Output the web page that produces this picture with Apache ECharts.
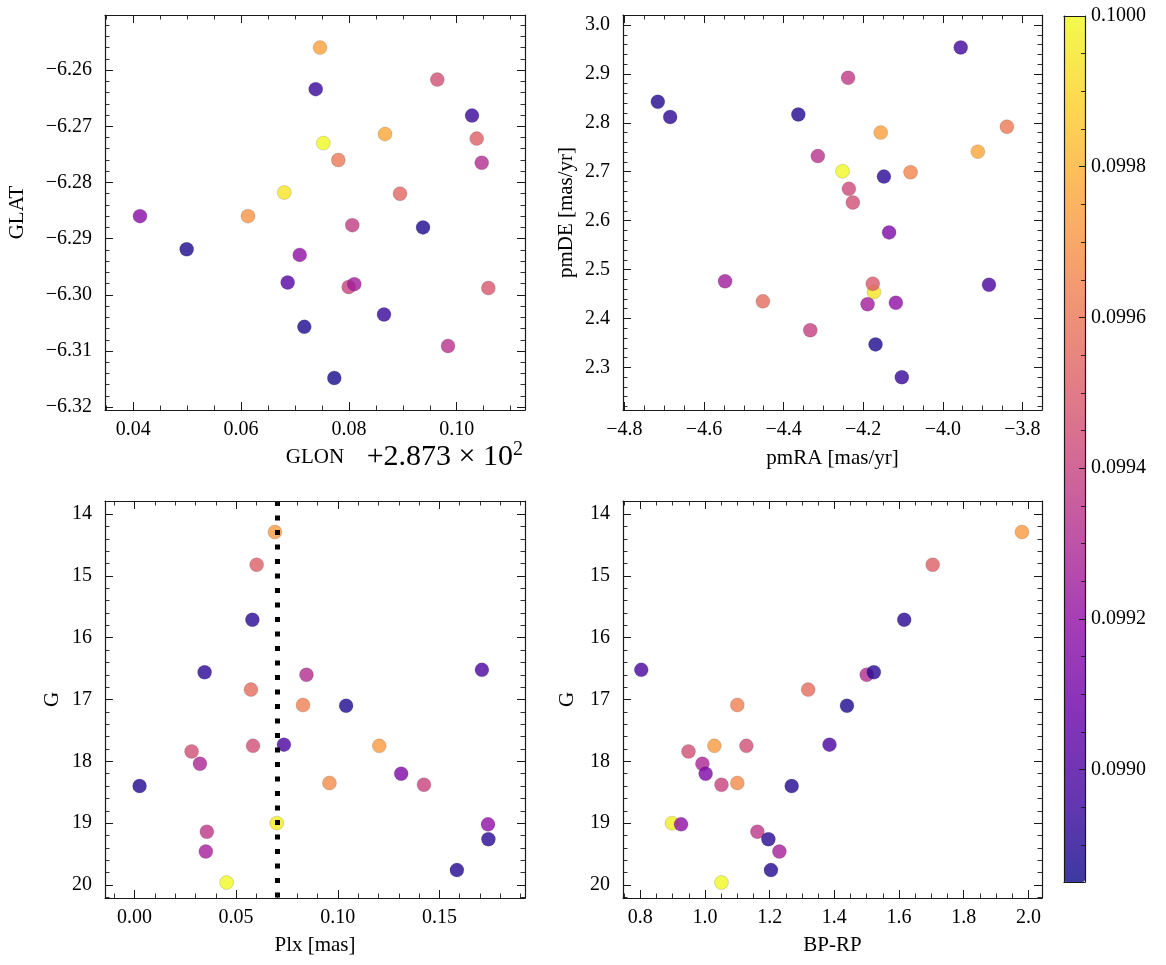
<!DOCTYPE html>
<html><head><meta charset="utf-8">
<script src="https://cdn.jsdelivr.net/npm/echarts@6/dist/echarts.min.js"></script>
<style>html,body{margin:0;padding:0;background:#fff}#c{width:1166px;height:965px}</style>
</head><body><div id="c"></div>
<script>
// ---------------- data ----------------
// Top-left panel: galactic coordinates
const glon = [287.37464, 287.39640, 287.37384, 287.40284, 287.38670, 287.37525, 287.40371, 287.37803, 287.40464, 287.36801,
              287.38948, 287.34124, 287.36128, 287.38063, 287.39375, 287.34990, 287.37087, 287.36864, 287.37996, 287.38100,
              287.40587, 287.38651, 287.37173, 287.39839, 287.37729];
const glat = [-6.2560, -6.2617, -6.2634, -6.2681, -6.2714, -6.2730, -6.2722, -6.2760, -6.2765, -6.2818,
              -6.2820, -6.2860, -6.2860, -6.2876, -6.2880, -6.2919, -6.2929, -6.2978, -6.2986, -6.2981,
              -6.2988, -6.3035, -6.3057, -6.3091, -6.3148];
const colorTL = [0.099747, 0.099448, 0.098943, 0.098943, 0.099770, 0.100000, 0.099517, 0.099609, 0.099311, 0.099943,
                 0.099540, 0.099173, 0.099701, 0.099380, 0.098885, 0.098885, 0.099196, 0.099023, 0.099403, 0.099253,
                 0.099483, 0.098943, 0.098885, 0.099334, 0.098874];
// Top-right panel: proper motions
const pmra = [-3.955, -4.238, -4.716, -4.685, -4.363, -4.156, -3.839, -4.314, -3.912, -4.252,
              -4.148, -4.081, -4.236, -4.226, -4.135, -4.547, -4.173, -4.176, -4.452, -4.189,
              -4.118, -3.884, -4.333, -4.169, -4.103];
const pmde = [2.954, 2.892, 2.843, 2.812, 2.817, 2.780, 2.792, 2.732, 2.741, 2.701,
              2.690, 2.699, 2.665, 2.637, 2.576, 2.476, 2.454, 2.471, 2.435, 2.429,
              2.432, 2.469, 2.376, 2.347, 2.280];
const colorTR = [0.098966, 0.099368, 0.098897, 0.098920, 0.098897, 0.099747, 0.099609, 0.099334, 0.099770, 0.100000,
                 0.098908, 0.099655, 0.099426, 0.099448, 0.099138, 0.099253, 0.099943, 0.099494, 0.099563, 0.099253,
                 0.099196, 0.098989, 0.099391, 0.098885, 0.098943];
// Bottom panels: parallax, G magnitude, colour
const plx  = [0.0691, 0.0601, 0.0580, 0.0846, 0.0345, 0.1709, 0.0573, 0.0829, 0.1041, 0.0583,
              0.0735, 0.1204, 0.0281, 0.0322, 0.1312, 0.0959, 0.1424, 0.0025, 0.0700, 0.0356,
              0.1739, 0.1741, 0.0351, 0.1586, 0.0453];
const gmag = [14.29, 14.82, 15.71, 16.60, 16.56, 16.52, 16.84, 17.09, 17.10, 17.75,
              17.73, 17.75, 17.84, 18.04, 18.20, 18.35, 18.38, 18.40, 19.00, 19.14,
              19.02, 19.26, 19.46, 19.76, 19.96];
const bprp = [1.980, 1.704, 1.616, 1.500, 1.522, 0.803, 1.319, 1.100, 1.439, 1.128,
              1.385, 1.029, 0.949, 0.992, 1.002, 1.100, 1.051, 1.268, 0.898, 1.162,
              0.926, 1.196, 1.230, 1.204, 1.051];
const colorB = [0.099724, 0.099517, 0.098908, 0.099311, 0.098908, 0.098989, 0.099563, 0.099632, 0.098885, 0.099448,
                0.098989, 0.099724, 0.099448, 0.099288, 0.099138, 0.099678, 0.099403, 0.098897, 0.099966, 0.099357,
                0.099196, 0.098908, 0.099265, 0.098897, 0.100000];
const plxLine = [0.07];
const colorRange = [0.098851, 0.1000];
const glonOffset = 287.3;

// ---------------- style ----------------
const plasma = ['#0d0887','#41049d','#6a00a8','#8f0da4','#b12a90','#cc4778','#e16462','#f2844b','#fca636','#fcce25','#f0f921'];
const ALPHA = 0.8;
function blend(hex) {
  const r = parseInt(hex.slice(1,3),16), g = parseInt(hex.slice(3,5),16), b = parseInt(hex.slice(5,7),16);
  const f = c => Math.round(c*ALPHA + 255*(1-ALPHA));
  return 'rgb(' + f(r) + ',' + f(g) + ',' + f(b) + ')';
}
const plasmaBlend = plasma.map(blend);
const FONT = 'Liberation Serif';
const AX = '#1a1a1a';
const MINUS = '\u2212';

function onStep(v, step) { const r = v / step; return Math.abs(r - Math.round(r)) < 1e-6; }
function mkFmt(step, dec, off) {
  return function (v) {
    const w = v - (off || 0);
    if (!onStep(v, step)) return '';
    let s = w.toFixed(dec);
    if (Math.abs(w) < 1e-12) s = (0).toFixed(dec);
    return s.replace('-', MINUS);
  };
}
function mkAxis(gridIndex, pos, min, max, step, minorSplit, o) {
  o = o || {};
  const main = pos === 'bottom' || pos === 'left';
  const isX = pos === 'bottom' || pos === 'top';
  return {
    type: 'value', gridIndex: gridIndex, position: pos, min: min, max: max,
    minInterval: step, maxInterval: step, inverse: !!o.inverse, z: 10,
    axisLine: {show: true, onZero: false, lineStyle: {color: AX, width: 1.2}},
    axisTick: {show: true, inside: true, length: 8, lineStyle: {color: AX, width: 1}},
    minorTick: {show: true, splitNumber: minorSplit, length: 4.5, lineStyle: {color: AX, width: 0.9}},
    splitLine: {show: false},
    axisPointer: {show: false},
    axisLabel: {show: main, margin: isX ? 10 : 13, fontFamily: FONT, fontSize: 20, color: '#000',
                formatter: mkFmt(step, o.dec, o.off)},
    name: main ? o.name : '', nameLocation: 'middle', nameGap: o.nameGap,
    nameTextStyle: {fontFamily: FONT, fontSize: 21, color: '#000'}
  };
}

const grids = [
  {left: 105, top: 15, width: 420, height: 395},
  {left: 623, top: 15, width: 419, height: 395},
  {left: 105, top: 501, width: 420, height: 397},
  {left: 623, top: 501, width: 419, height: 397},
  {left: 1064, top: 16, width: 21, height: 866}
];

const xAxes = [], yAxes = [];
function pair(arr, g, pos1, pos2, min, max, step, minor, o) {
  arr.push(mkAxis(g, pos1, min, max, step, minor, o));
  arr.push(mkAxis(g, pos2, min, max, step, minor, o));
}
pair(xAxes, 0, 'bottom', 'top', 287.33475, 287.41267, 0.02, 4, {dec: 2, off: glonOffset, name: 'GLON', nameGap: 37});
pair(yAxes, 0, 'left', 'right', -6.3205, -6.2502, 0.01, 5, {dec: 2, name: 'GLAT', nameGap: 77});
pair(xAxes, 1, 'bottom', 'top', -4.8035, -3.7508, 0.2, 4, {dec: 1, name: 'pmRA [mas/yr]', nameGap: 38});
pair(yAxes, 1, 'left', 'right', 2.2129, 3.0204, 0.1, 5, {dec: 1, name: 'pmDE [mas/yr]', nameGap: 46});
pair(xAxes, 2, 'bottom', 'top', -0.0145, 0.1921, 0.05, 5, {dec: 2, name: 'Plx [mas]', nameGap: 37});
pair(yAxes, 2, 'left', 'right', 13.789, 20.211, 1, 5, {dec: 0, name: 'G', nameGap: 42, inverse: true});
pair(xAxes, 3, 'bottom', 'top', 0.7465, 2.042, 0.2, 4, {dec: 1, name: 'BP-RP', nameGap: 37});
pair(yAxes, 3, 'left', 'right', 13.789, 20.211, 1, 5, {dec: 0, name: 'G', nameGap: 45, inverse: true});
// colorbar frame + axis
function cbAxis(pos, isX, withTicks) {
  return {
    type: 'value', gridIndex: 4, position: pos, z: 10,
    min: isX ? 0 : colorRange[0], max: isX ? 1 : colorRange[1],
    minInterval: isX ? null : 0.0002, maxInterval: isX ? null : 0.0002,
    axisLine: {show: true, onZero: false, lineStyle: {color: AX, width: 1.2}},
    axisTick: {show: withTicks, inside: true, length: 6, lineStyle: {color: AX, width: 1}},
    minorTick: {show: withTicks, splitNumber: 4, length: 4, lineStyle: {color: AX, width: 0.9}},
    splitLine: {show: false}, axisPointer: {show: false},
    axisLabel: {show: withTicks, margin: 6, fontFamily: FONT, fontSize: 20, color: '#000',
                formatter: mkFmt(0.0002, 4, 0)}
  };
}
xAxes.push(cbAxis('bottom', true, false));
xAxes.push(cbAxis('top', true, false));
yAxes.push(cbAxis('left', false, false));
yAxes.push(cbAxis('right', false, true));

function zip3(a, b, c) { return a.map((v, i) => [v, b[i], c[i]]); }
const pointStyle = {opacity: ALPHA, borderColor: 'rgba(40,40,40,0.5)', borderWidth: 0.4};
function scatter(xi, yi, data) {
  return {type: 'scatter', xAxisIndex: xi, yAxisIndex: yi, data: data, symbolSize: 14,
          itemStyle: pointStyle, emphasis: {disabled: true}, animation: false};
}
const series = [
  scatter(0, 0, zip3(glon, glat, colorTL)),
  scatter(2, 2, zip3(pmra, pmde, colorTR)),
  Object.assign(scatter(4, 4, zip3(plx, gmag, colorB)), {
    markLine: {silent: true, symbol: ['none', 'none'], animation: false,
      label: {show: false},
      lineStyle: {color: '#000', width: 5, type: [5, 9.5], cap: 'butt', opacity: 1},
      emphasis: {disabled: true},
      data: plxLine.map(v => ({xAxis: v}))}
  }),
  scatter(6, 6, zip3(bprp, gmag, colorB)),
  {type: 'scatter', xAxisIndex: 8, yAxisIndex: 8, data: [], animation: false}
];

const option = {
  backgroundColor: '#fff',
  animation: false,
  grid: grids,
  xAxis: xAxes,
  yAxis: yAxes,
  visualMap: [
    {type: 'continuous', show: false, seriesIndex: [0, 1, 2, 3], dimension: 2,
     min: colorRange[0], max: colorRange[1], inRange: {color: plasma}},
    {type: 'continuous', show: true, seriesIndex: [4], dimension: 1, calculable: false, hoverLink: false,
     min: colorRange[0], max: colorRange[1], inRange: {color: plasmaBlend},
     left: 1064, top: 16, itemWidth: 21, itemHeight: 866, padding: 0, text: null, showLabel: false}
  ],
  graphic: [{
    type: 'text', z: 20, x: 523, y: 457,
    style: {
      text: '{a|+2.873 × 10}{b|2}', align: 'right', verticalAlign: 'middle',
      rich: {
        a: {fontFamily: FONT, fontSize: 30, color: '#000', lineHeight: 34},
        b: {fontFamily: FONT, fontSize: 20, color: '#000', verticalAlign: 'top', lineHeight: 20}
      }
    }
  }],
  series: series
};
const chart = echarts.init(document.getElementById('c'), null, {renderer: 'canvas'});
chart.setOption(option);
</script>
</body></html>
